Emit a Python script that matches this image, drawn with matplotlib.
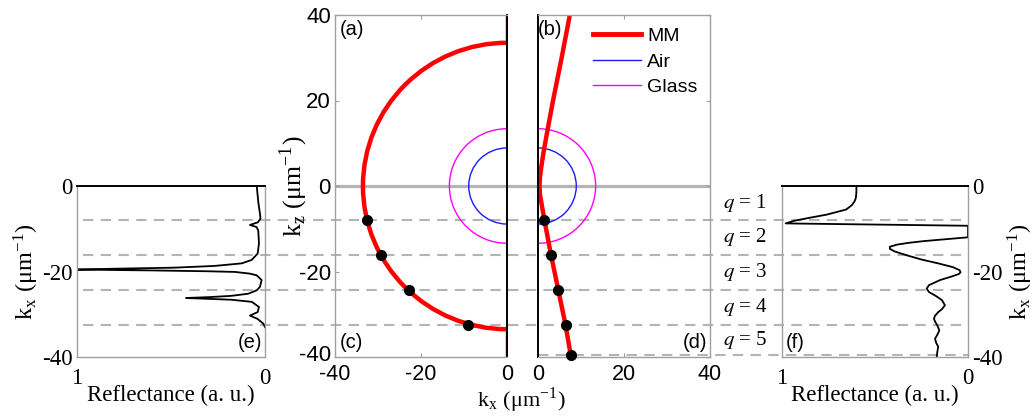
import matplotlib
matplotlib.use('Agg')
import numpy as np
import matplotlib.pyplot as plt
import matplotlib.transforms as mtrans
from matplotlib.patches import Circle
from matplotlib.lines import Line2D

plt.rcParams['axes.unicode_minus'] = False
plt.rcParams['mathtext.fontset'] = 'stix'

SERIF = 'Liberation Serif'
SANS = 'Liberation Sans'
GRID = '#b4b4b4'
SPINE = '#a0a0a0'

# kz positions of the q orders (um^-1)
q_lines = [-7.9, -16.1, -24.3, -32.5, -39.5]
q_names = ['1', '2', '3', '4', '5']

# iso-frequency circles (um^-1)
r_air = 8.9
r_glass = 13.4
r_mm = 33.5

# MM contour in (b)/(d)
kz_b = [40, 30, 20, 13, 8, 4, 2, 0, -2, -4, -8, -16, -24, -32, -40]
kx_b = [7.4, 5.5, 3.5, 2.2, 1.3, 0.7, 0.45, 0.35, 0.45, 0.8, 1.5, 3.0, 4.65, 6.3, 7.7]

# modes (dots)
dots_c_kx = [-32.5, -29.4, -22.9, -9.0]
dots_c_kz = [-7.9, -16.1, -24.3, -32.5]
dots_d_kx = [1.5, 3.0, 4.7, 6.4, 7.6]
dots_d_kz = [-7.9, -16.1, -24.3, -32.5, -39.5]

# reflectance (e)
kx_e = [0, -4, -6.7, -7.6, -8.5, -9.1, -9.6, -10.4, -13.4, -15.8, -17.3, -18.1,
        -18.7, -19.1, -19.35, -19.55, -19.75, -19.95, -20.1, -20.5, -20.9, -22.0,
        -23.6, -24.4, -25.2, -25.7, -26.0, -26.2, -26.4, -26.6, -27.1, -28.3,
        -29.5, -30.3, -31.1, -32.2, -33.0]
R_e = [0.044, 0.035, 0.026, 0.024, 0.038, 0.08, 0.045, 0.036, 0.032, 0.039, 0.071, 0.124,
       0.27, 0.48, 0.8, 1.0, 0.6, 0.3, 0.16, 0.08, 0.044, 0.018,
       0.027, 0.044, 0.089, 0.18, 0.3, 0.42, 0.3, 0.18, 0.07, 0.032,
       0.039, 0.08, 0.039, 0.009, 0.0]

# reflectance (f)
kx_f = [0, -1.5, -2.8, -3.6, -4.5, -5.5, -6.7, -7.5, -8.2, -8.75, -9.3, -10.5, -12.0,
        -12.3, -12.6, -12.9, -13.3, -13.7, -14.2, -14.7, -15.3, -16.2, -17.2, -18.1,
        -19.0, -19.7, -20.2, -20.6, -21.2, -22.0, -23.2, -24.0, -24.8, -25.8, -26.7,
        -27.9, -28.8, -29.5, -30.4, -31.1, -31.9, -32.6, -33.8, -34.8, -35.7, -36.6,
        -37.6, -38.8, -40.0]
R_f = [0.6, 0.6, 0.603, 0.61, 0.625, 0.655, 0.76, 0.86, 0.94, 0.98, 0.0, 0.0, 0.0,
       0.08, 0.16, 0.24, 0.32, 0.38, 0.42, 0.42, 0.395, 0.33, 0.25, 0.16,
       0.08, 0.045, 0.04, 0.05, 0.09, 0.15, 0.21, 0.222, 0.21, 0.17, 0.14,
       0.124, 0.14, 0.16, 0.178, 0.183, 0.175, 0.165, 0.154, 0.165, 0.177, 0.172,
       0.16, 0.165, 0.168]

W, H = 1036, 417
fig = plt.figure(figsize=(W / 100, H / 100), dpi=100)


def px(x0, x1, y0, y1):
    return [x0 / W, 1 - y1 / H, (x1 - x0) / W, (y1 - y0) / H]


mid_top, mid_bot = 15, 357
zero_y = (mid_top + mid_bot) / 2
pos_e = px(77, 265, zero_y, mid_bot)
pos_a = px(335, 507, mid_top, mid_bot)
pos_b = px(538, 710, mid_top, mid_bot)
pos_f = px(782, 968, zero_y, mid_bot)

# overlay for the guide lines that run across the panels
ov = fig.add_axes([0, pos_a[1], 1, pos_a[3]], zorder=0)
ov.set_xlim(0, 1)
ov.set_ylim(-40, 40)
ov.axis('off')
x_left = pos_e[0] + 0.006
x_right = pos_f[0] + pos_f[2]
ov.hlines(q_lines[:4], x_left, x_right, colors=GRID, linestyles=(0, (5, 3.5)), lw=1.5)
ov.hlines(q_lines[4], pos_b[0], x_right, colors=GRID, linestyles=(0, (5, 3.5)), lw=1.5)
ov.hlines(0, pos_a[0], pos_b[0] + pos_b[2], colors=GRID, lw=2.3)
bounds = [0] + q_lines
for i, name in enumerate(q_names):
    ov.text(745 / W, (bounds[i] + bounds[i + 1]) / 2, '$q$ = ' + name,
            ha='center', va='center', fontsize=15, family=SERIF)


def style(ax, black=None):
    ax.set_facecolor('none')
    for s in ax.spines.values():
        s.set_color(SPINE)
        s.set_linewidth(1.0)
    if black:
        ax.spines[black].set_color('black')
        ax.spines[black].set_linewidth(1.4)
    ax.tick_params(direction='in', length=3, color=SPINE, width=0.8)


KLAB = r'k$_\mathregular{%s}$ ($\mathregular{\mu}$m$^\mathregular{-1}$)'

# (a)/(c)
ax_a = fig.add_axes(pos_a, zorder=1)
style(ax_a, 'right')
ax_a.add_patch(Circle((0, 0), r_glass, fill=False, color='#ff00ff', lw=1.0))
ax_a.add_patch(Circle((0, 0), r_air, fill=False, color='#1a1aff', lw=1.0))
ax_a.add_patch(Circle((0, 0), r_mm, fill=False, color='red', lw=3.2))
ax_a.plot([0, 0], [r_mm, 40], color='red', lw=2.5)
ax_a.plot([0, 0], [-r_mm, -40], color='red', lw=2.5)
ax_a.plot(dots_c_kx, dots_c_kz, 'o', color='black', ms=7, zorder=5)
ax_a.set_xlim(-40, 0)
ax_a.set_ylim(-40, 40)
ax_a.set_xticks([-40, -20, 0])
ax_a.set_yticks([-40, -20, 0, 20, 40])
ax_a.tick_params(labelsize=16, pad=3, top=True, labelfontfamily=SANS)
ax_a.tick_params(axis='x', labelsize=15.5, pad=5)
ax_a.set_ylabel(KLAB % 'z', family=SERIF, fontsize=18.5, labelpad=-8)
ax_a.text(0.03, 0.985, '(a)', transform=ax_a.transAxes, ha='left', va='top',
          fontsize=14.5, family=SANS)
ax_a.text(0.03, 0.015, '(c)', transform=ax_a.transAxes, ha='left', va='bottom',
          fontsize=14.5, family=SANS)
# lift the bottom y tick label a little so it clears the x tick label
low = ax_a.get_yticklabels()[0]
low.set_transform(low.get_transform() +
                  mtrans.ScaledTranslation(0, 4 / 100, fig.dpi_scale_trans))

# (b)/(d)
ax_b = fig.add_axes(pos_b, zorder=1)
style(ax_b, 'left')
ax_b.add_patch(Circle((0, 0), r_glass, fill=False, color='#ff00ff', lw=1.0))
ax_b.add_patch(Circle((0, 0), r_air, fill=False, color='#1a1aff', lw=1.0))
ax_b.plot(kx_b, kz_b, color='red', lw=3.2)
ax_b.plot(dots_d_kx, dots_d_kz, 'o', color='black', ms=7, zorder=5, clip_on=False)
ax_b.set_xlim(0, 40)
ax_b.set_ylim(-40, 40)
ax_b.set_xticks([0, 20, 40])
ax_b.set_yticks([-40, 0, 20, 40])
ax_b.tick_params(labelsize=15.5, pad=5, labelleft=False, right=True, top=True,
                 left=False, labelfontfamily=SANS)
ax_b.text(0.0, 0.985, '(b)', transform=ax_b.transAxes, ha='left', va='top',
          fontsize=14.5, family=SANS)
ax_b.text(0.985, 0.015, '(d)', transform=ax_b.transAxes, ha='right', va='bottom',
          fontsize=14.5, family=SANS)
handles = [Line2D([], [], color='red', lw=3.5),
           Line2D([], [], color='#1a1aff', lw=1.0),
           Line2D([], [], color='#ff00ff', lw=1.0)]
ax_b.legend(handles, ['MM', 'Air', 'Glass'], loc='upper right',
            bbox_to_anchor=(1.0, 1.0), frameon=False, handlelength=2.5,
            handletextpad=0.3, labelspacing=0.4, borderaxespad=0.25,
            prop={'family': SANS, 'size': 14})

fig.text(521 / W, 2 / H, KLAB % 'x',
         ha='center', va='bottom', fontsize=16, family=SERIF)


def side(ax, kx, R):
    style(ax, 'top')
    ax.plot(R, kx, color='black', lw=1.3)
    ax.set_xlim(1, 0)
    ax.set_ylim(-40, 0)
    ax.set_xticks([1, 0])
    ax.set_yticks([0, -20, -40])
    ax.tick_params(labelsize=16.5, pad=3, length=0, labelfontfamily=SERIF)
    ax.tick_params(axis='x', pad=8)
    ax.set_xlabel('Reflectance (a. u.)', family=SERIF, fontsize=16.5, labelpad=-3)


ax_e = fig.add_axes(pos_e, zorder=1)
side(ax_e, kx_e, R_e)
ax_e.set_ylabel(KLAB % 'x', family=SERIF, fontsize=17.5, labelpad=1)
ax_e.text(0.985, 0.03, '(e)', transform=ax_e.transAxes, ha='right', va='bottom',
          fontsize=14.5, family=SANS)

ax_f = fig.add_axes(pos_f, zorder=1)
side(ax_f, kx_f, R_f)
ax_f.yaxis.tick_right()
ax_f.yaxis.set_label_position('right')
ax_f.tick_params(axis='y', labelsize=16.5, pad=3, length=0, labelfontfamily=SERIF)
ax_f.set_ylabel(KLAB % 'x', family=SERIF, fontsize=17.5, labelpad=2, rotation=90)
ax_f.text(0.02, 0.03, '(f)', transform=ax_f.transAxes, ha='left', va='bottom',
          fontsize=14.5, family=SANS)

fig.savefig('out.png', dpi=100, facecolor='white')
